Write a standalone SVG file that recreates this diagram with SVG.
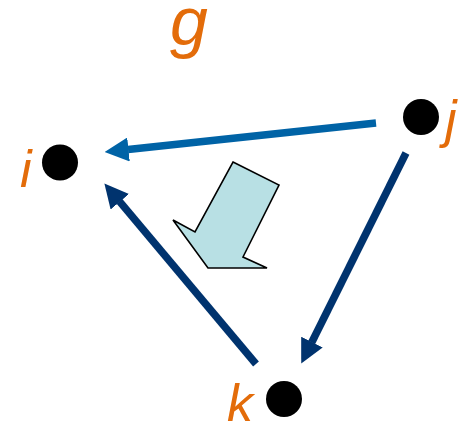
<svg xmlns="http://www.w3.org/2000/svg" width="466" height="426" viewBox="0 0 466 426">
<style>
.lbl{font-family:"Liberation Sans",Arial,sans-serif;font-style:italic;fill:#e36c0a}
.dot{fill:#000}
.e{fill:none;stroke-width:7.5}
</style>
<defs>
<marker id="hb" markerUnits="userSpaceOnUse" markerWidth="24" markerHeight="24" viewBox="0 0 24 24" refX="0.5" refY="12" orient="auto"><path d="M0,0 L24,12 L0,24 z" fill="#0063a6"/></marker>
<marker id="hn" markerUnits="userSpaceOnUse" markerWidth="24" markerHeight="24" viewBox="0 0 24 24" refX="0.5" refY="12" orient="auto"><path d="M0,0 L24,12 L0,24 z" fill="#00336e"/></marker>
</defs>
<rect width="466" height="426" fill="#fff"/>
<text class="lbl" x="170" y="45" font-size="68">g</text>
<g id="connectors">
<line class="e" x1="376" y1="123" x2="128" y2="149.5" stroke="#0063a6" marker-end="url(#hb)"/>
<line class="e" x1="406" y1="153" x2="311.7" y2="342.5" stroke="#00336e" marker-end="url(#hn)"/>
<line class="e" x1="256" y1="364" x2="119.5" y2="201.4" stroke="#00336e" marker-end="url(#hn)"/>
</g>
<g id="fatarrow">
<polygon points="233,162 279,185 243,257 267,268 208,268 173,220 195,232" fill="#b8e0e4" stroke="#000" stroke-width="1.6" stroke-linejoin="miter"/>
</g>
<g id="node-i"><circle class="dot" cx="60" cy="162.5" r="18"/><text class="lbl" x="20" y="187" font-size="52">i</text></g>
<g id="node-j"><circle class="dot" cx="421" cy="117" r="18"/><text class="lbl" x="445" y="137" font-size="52">j</text></g>
<g id="node-k"><circle class="dot" cx="284" cy="399" r="18"/><text class="lbl" x="227" y="421" font-size="52">k</text></g>
</svg>
